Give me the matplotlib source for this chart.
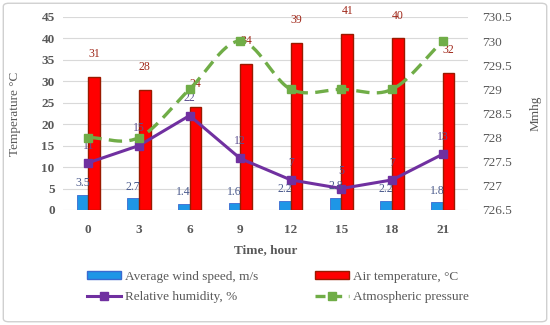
import numpy as np
import matplotlib
matplotlib.use("Agg")
import matplotlib.pyplot as plt
from matplotlib.patches import FancyBboxPatch, Patch
from matplotlib.lines import Line2D

hours = ["0", "3", "6", "9", "12", "15", "18", "21"]
wind = [3.5, 2.7, 1.4, 1.6, 2.2, 2.8, 2.2, 1.8]
temp = [31, 28, 24, 34, 39, 41, 40, 32]
humidity = [11, 15, 22, 12, 7, 5, 7, 13]
pressure = [728, 728, 729, 730, 729, 729, 729, 730]
left_ticks = [0, 5, 10, 15, 20, 25, 30, 35, 40, 45]
right_ticks = [726.5, 727, 727.5, 728, 728.5, 729, 729.5, 730, 730.5]

plt.rcParams['font.family'] = ['Liberation Serif', 'DejaVu Sans']
GRAY = '#595959'

fig = plt.figure(figsize=(5.5, 3.25), dpi=100)
fig.patches.append(FancyBboxPatch((0.006, 0.01), 0.988, 0.98, boxstyle="round,pad=0,rounding_size=0.01",
                                  transform=fig.transFigure, fill=False, edgecolor='#D0D0D0', lw=1))
ax = fig.add_axes([0.1145, 0.354, 0.7365, 0.594])
ax2 = ax.twinx()

x = np.arange(len(hours))
bw = 0.23
ax.bar(x - bw / 2, wind, bw, color='#1E96E6', edgecolor='#3A6AD0', lw=0.6, zorder=2)
ax.bar(x + bw / 2, temp, bw, color='#FF0000', edgecolor='#9A1A00', lw=1.0, zorder=2)
ax.plot(x, humidity, color='#7030A0', lw=2.2, marker='s', ms=5.5, zorder=4)


def catmull(xs, ys, n=30):
    xs = np.asarray(xs, float); ys = np.asarray(ys, float)
    px = np.concatenate([[2 * xs[0] - xs[1]], xs, [2 * xs[-1] - xs[-2]]])
    py = np.concatenate([[2 * ys[0] - ys[1]], ys, [2 * ys[-1] - ys[-2]]])
    ox, oy = [], []
    for i in range(1, len(px) - 2):
        t = np.linspace(0, 1, n)
        for arr, out in ((px, ox), (py, oy)):
            p0, p1, p2, p3 = arr[i - 1], arr[i], arr[i + 1], arr[i + 2]
            out.extend(0.5 * ((2 * p1) + (-p0 + p2) * t + (2 * p0 - 5 * p1 + 4 * p2 - p3) * t ** 2
                              + (-p0 + 3 * p1 - 3 * p2 + p3) * t ** 3))
    return np.array(ox), np.array(oy)


sx, sy = catmull(x, pressure)
ax2.plot(sx, sy, color='#70AD47', lw=2.4, ls=(0, (4, 2.2)), zorder=3)
ax2.plot(x, pressure, ls='none', marker='s', ms=5.5, color='#70AD47', zorder=3)

ax.set_ylim(0, 45)
ax.set_yticks(left_ticks)
ax2.set_ylim(726.5, 730.5)
ax2.set_yticks(right_ticks)
ax2.set_yticklabels([f"{v:g}" for v in right_ticks])
ax.set_xlim(-0.5, len(hours) - 0.5)
ax.set_xticks(x)
ax.set_xticklabels(hours)
ax.grid(axis='y', color='#D9D9D9', lw=0.8, zorder=0)
ax.set_axisbelow(True)
for a in (ax, ax2):
    for s in a.spines.values():
        s.set_visible(False)
    a.tick_params(length=0, colors=GRAY, labelsize=9.5)
for lab in ax.get_xticklabels() + ax.get_yticklabels():
    lab.set_fontweight('bold')
ax.tick_params(axis='x', pad=10)
ax.tick_params(axis='y', pad=6)
ax2.tick_params(axis='y', pad=10)

ax.set_xlabel("Time, hour", fontsize=9.5, fontweight='bold', color=GRAY, labelpad=6)
ax.set_ylabel("Temperature °C", fontsize=9.5, color=GRAY, labelpad=15)
ax2.set_ylabel("Mmhg", fontsize=9.5, color=GRAY, rotation=90, labelpad=13)

for xi, v in zip(x, wind):
    ax.annotate(f"{v:g}", (xi - bw / 2, v), xytext=(0, 4), textcoords='offset points',
                ha='center', va='bottom', fontsize=8.5, color='#4A5A8C', zorder=5)
for xi, v in zip(x, temp):
    ax.annotate(f"{v:g}", (xi + bw / 2, v), xytext=(0, 12), textcoords='offset points',
                ha='center', va='bottom', fontsize=8.5, color='#A0281A', zorder=5)
for xi, v in zip(x, humidity):
    ax.annotate(f"{v:g}", (xi, v), xytext=(0, 8), textcoords='offset points',
                ha='center', va='bottom', fontsize=8.5, color='#5C4F8F', zorder=5)

handles = [Patch(facecolor='#1E96E6', edgecolor='#3A6AD0'),
           Line2D([], [], color='#7030A0', lw=2.2, marker='s', ms=5.5),
           Patch(facecolor='#FF0000', edgecolor='#9A1A00'),
           Line2D([], [], color='#70AD47', lw=2.4, ls=(0, (3, 2)), marker='s', ms=5.5)]
labels = ["Average wind speed, m/s", "Relative humidity, %", "Air temperature, °C", "Atmospheric pressure"]
leg = fig.legend(handles, labels, loc='center', bbox_to_anchor=(0.505, 0.117), ncol=2, frameon=False,
                 fontsize=9.5, handlelength=2.6, handleheight=0.6, handletextpad=0.3, columnspacing=4.3,
                 labelspacing=0.65)
for t in leg.get_texts():
    t.set_color(GRAY)

fig.savefig("out.png", dpi=100)
